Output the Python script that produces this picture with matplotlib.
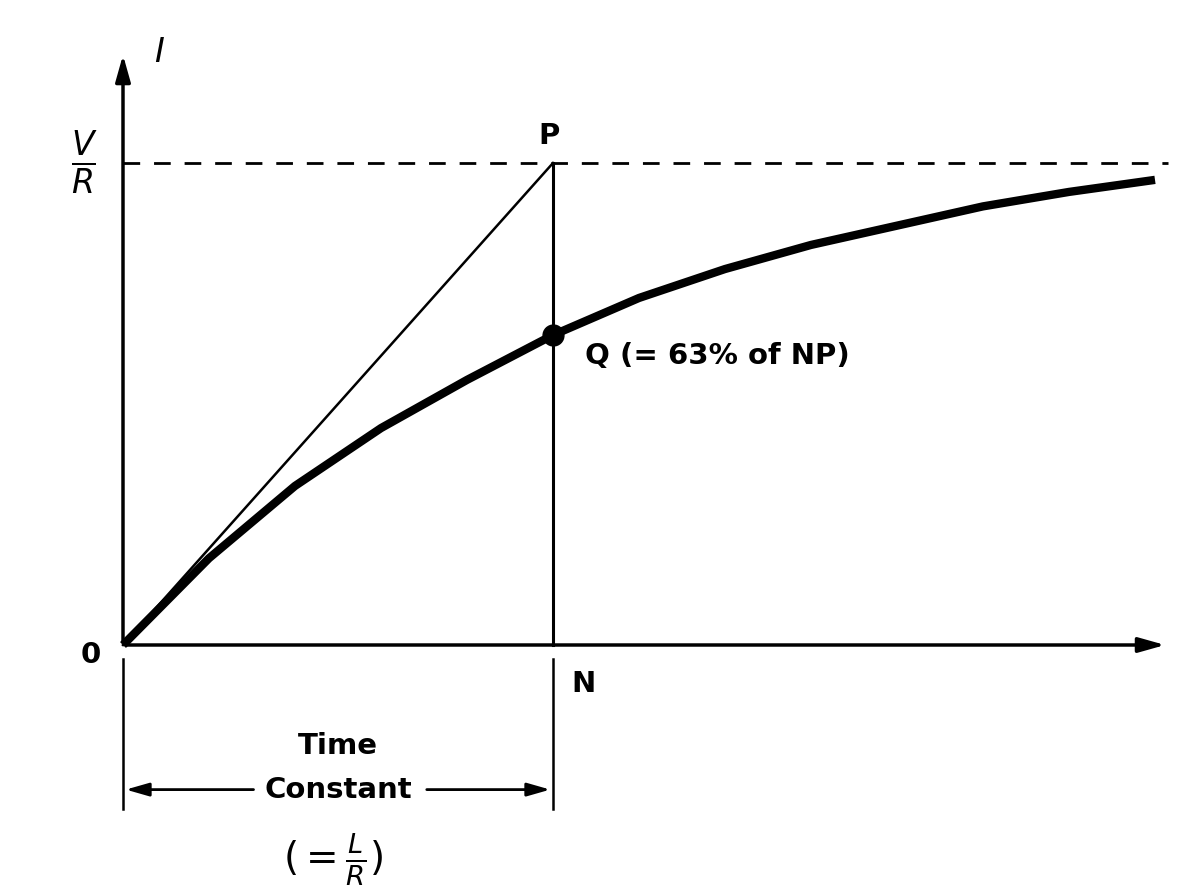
import numpy as np
import matplotlib.pyplot as plt

# x in units of the time constant L/R, y in units of V/R
curve_t = [0.0, 0.2, 0.4, 0.6, 0.8, 1.0, 1.2, 1.4, 1.6, 1.8, 2.0, 2.2, 2.4]
curve_i = [0.0, 0.18, 0.33, 0.45, 0.55, 0.643, 0.72, 0.78, 0.83, 0.87, 0.91, 0.94, 0.965]
tau = 1.0
q_level = 0.643

fig = plt.figure(figsize=(11.81, 8.86), dpi=100)
ax = fig.add_axes([0, 0, 1, 1])
ax.set_xlim(-123 / 430, (1181 - 123) / 430)
ax.set_ylim(-241 / 482, 645 / 482)
ax.axis("off")

k = "black"
# axes with arrows
ax.annotate("", xy=(2.43, 0), xytext=(0, 0),
            arrowprops=dict(arrowstyle="-|>,head_length=1.6,head_width=0.45", color=k, lw=2.5))
ax.annotate("", xy=(0, 1.23), xytext=(0, 0),
            arrowprops=dict(arrowstyle="-|>,head_length=1.6,head_width=0.45", color=k, lw=2.5))

# asymptote and construction lines
ax.plot([0, 2.43], [1, 1], "--", color=k, lw=2, dashes=(6, 5))
ax.plot([0, tau], [0, 1], color=k, lw=1.8)
ax.plot([tau, tau], [0, 1], color=k, lw=2.2)
ax.plot(curve_t, curve_i, color=k, lw=6, solid_capstyle="butt")
ax.plot([tau], [q_level], "o", color=k, ms=15)

fs = 21
ax.text(0.085, 1.23, "$I$", fontsize=24, ha="center", va="center")
ax.text(-0.06, 1.0, r"$\frac{V}{R}$", fontsize=34, ha="right", va="center")
ax.text(tau - 0.01, 1.055, "P", fontsize=fs, weight="bold", ha="center", va="center")
ax.text(tau + 0.075, 0.60, "Q (= 63% of NP)", fontsize=fs, weight="bold", ha="left", va="center")
ax.text(-0.075, -0.02, "0", fontsize=fs, weight="bold", ha="center", va="center")
ax.text(tau + 0.07, -0.08, "N", fontsize=fs, weight="bold", ha="center", va="center")

# time constant marker
ax.plot([0, 0], [-0.03, -0.34], color=k, lw=1.8)
ax.plot([tau, tau], [-0.03, -0.34], color=k, lw=1.8)
ax.text(0.5, -0.21, "Time", fontsize=fs, weight="bold", ha="center", va="center")
ax.text(0.5, -0.30, "Constant", fontsize=fs, weight="bold", ha="center", va="center")
ax.annotate("", xy=(0, -0.30), xytext=(0.31, -0.30),
            arrowprops=dict(arrowstyle="-|>,head_length=1.4,head_width=0.4", color=k, lw=2))
ax.annotate("", xy=(tau, -0.30), xytext=(0.70, -0.30),
            arrowprops=dict(arrowstyle="-|>,head_length=1.4,head_width=0.4", color=k, lw=2))
ax.text(0.49, -0.445, r"$(=\frac{L}{R})$", fontsize=28, ha="center", va="center")

fig.savefig("out.png", dpi=100)
